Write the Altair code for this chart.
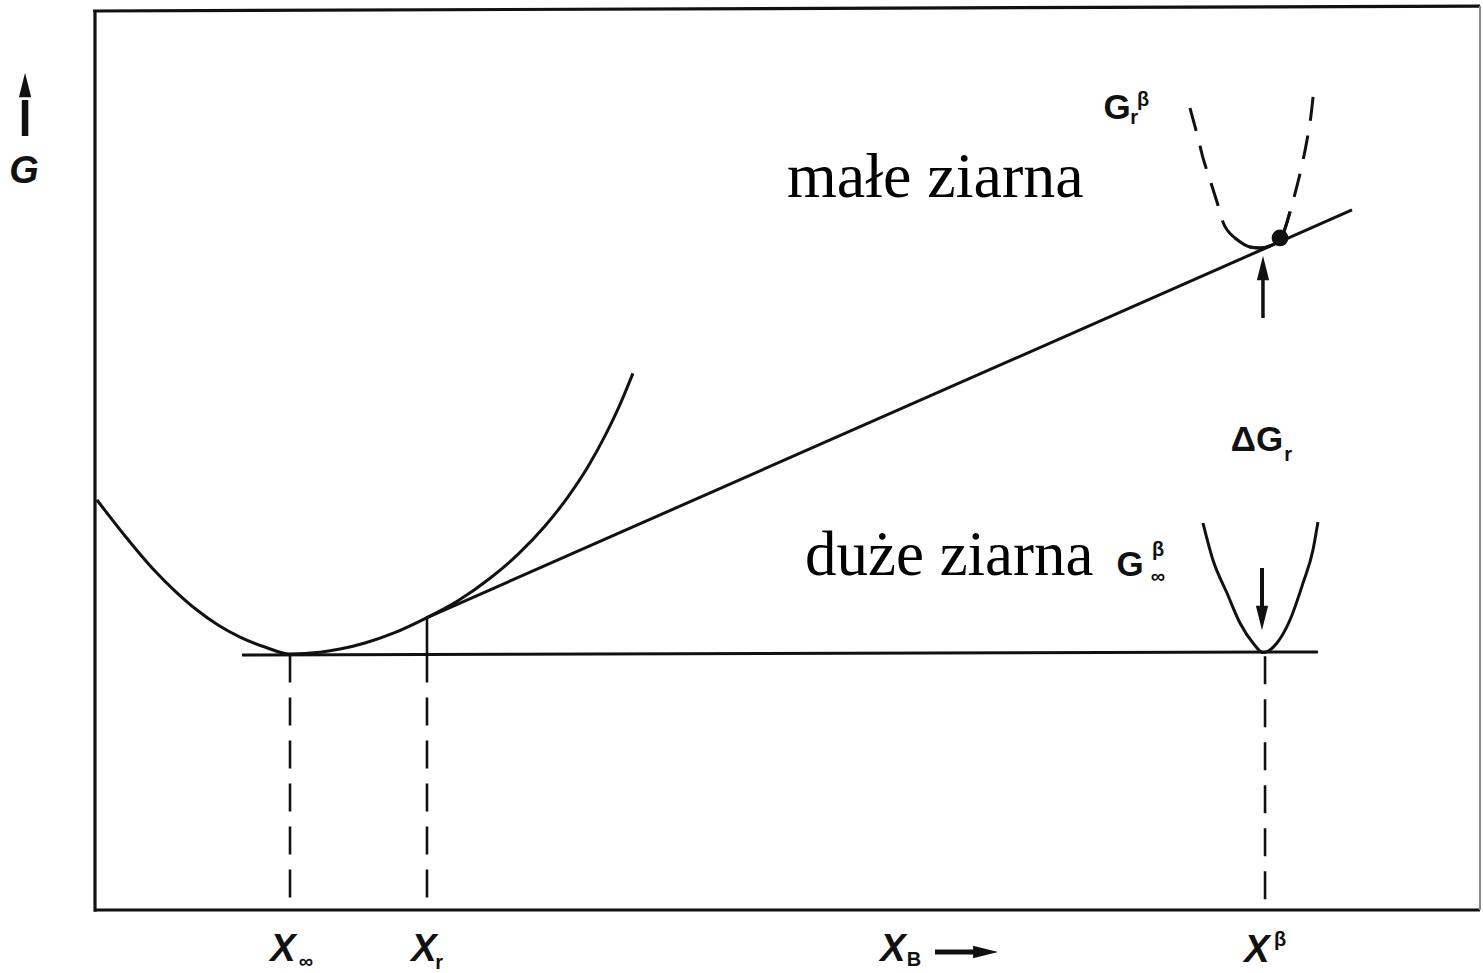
import altair as alt
import pandas as pd

# Composition axis X_B runs 0..100 across the frame, free energy G runs 0..100 up the frame.

# alpha-phase free-energy curve
alpha_x = [0.14, 2.17, 4.26, 5.78, 7.36, 8.88, 10.47, 12.27, 14.08, 16.25, 17.69, 19.49,
           21.59, 23.90, 26.21, 28.52, 30.61, 32.49, 34.15, 35.60, 36.82, 37.91, 38.84]
alpha_g = [45.56, 41.56, 37.78, 35.44, 33.33, 31.67, 30.33, 29.22, 28.44, 28.64, 28.99, 29.67,
           30.79, 32.44, 34.36, 36.86, 39.62, 42.66, 45.90, 49.27, 52.68, 56.18, 59.63]

# common tangent for large particles and tangent for small particles
common_x = [10.61, 88.30]
common_g = [28.33, 28.67]
tangent_x = [23.90, 90.76]
tangent_g = [32.44, 77.78]

# beta phase, small particles (G_r^beta), dashed
small_beta_x = [79.06, 79.64, 80.00, 80.51, 81.01, 81.44, 82.31, 83.39, 84.12, 84.84, 85.70,
                86.28, 86.71, 87.15, 87.51, 87.80, 88.01]
small_beta_g = [89.11, 85.78, 83.56, 81.11, 78.67, 76.44, 74.67, 73.67, 73.56, 73.78, 74.89,
                77.56, 80.00, 82.78, 85.56, 88.33, 91.33]
# solid bottom of the small-particle curve
small_core_x = [82.31, 83.39, 84.12, 84.84, 85.70, 86.28]
small_core_g = [74.67, 73.67, 73.56, 73.78, 74.89, 77.56]

# beta phase, large particles (G_inf^beta)
large_beta_x = [80.00, 80.72, 81.73, 82.67, 83.61, 84.33, 85.34, 86.28, 87.22, 87.94, 88.30]
large_beta_g = [43.00, 38.89, 35.22, 31.89, 29.67, 28.60, 29.67, 32.22, 36.33, 40.00, 43.11]

# compositions marked on the X_B axis
drop_x = [14.08, 23.97, 84.48]
drop_top = [28.40, 28.40, 28.20]
xr_solid_g = [28.40, 32.44]

# point of tangency on the small-particle curve
dot_x = [85.56]
dot_g = [74.67]

INK = "#111111"
LW = 3.0
X_DOM = [-6.8592, 100.2166]
G_DOM = [-7.0, 101.111]
xs = alt.Scale(domain=X_DOM, nice=False, zero=False)
ys = alt.Scale(domain=G_DOM, nice=False, zero=False)


def series(name, xv, gv):
    return pd.DataFrame({"series": name, "x": xv, "g": gv, "o": range(len(xv))})


curve_df = pd.concat([
    series("alpha", alpha_x, alpha_g),
    series("common", common_x, common_g),
    series("tangent", tangent_x, tangent_g),
    series("small_core", small_core_x, small_core_g),
    series("large_beta", large_beta_x, large_beta_g),
])
dashed_df = series("small_beta", small_beta_x, small_beta_g)

X = alt.X("x:Q", scale=xs, axis=None)
Y = alt.Y("g:Q", scale=ys, axis=None)

curves = alt.Chart(curve_df).mark_line(
    color=INK, strokeWidth=LW, interpolate="monotone", clip=False).encode(
    x=X, y=Y, detail="series:N", order="o:Q")
dashed = alt.Chart(dashed_df).mark_line(
    color=INK, strokeWidth=LW, strokeDash=[24, 15], interpolate="monotone").encode(
    x=X, y=Y, order="o:Q")

xr_solid = alt.Chart(pd.DataFrame({"x": [drop_x[1]], "g": [xr_solid_g[0]], "g2": [xr_solid_g[1]]})).mark_rule(
    color=INK, strokeWidth=2.6).encode(x=X, y=Y, y2="g2:Q")

drops_df = pd.DataFrame({"x": drop_x, "g": drop_top, "g0": [0.0] * 3})
drops = alt.Chart(drops_df).mark_rule(color=INK, strokeWidth=2.6, strokeDash=[28, 15]).encode(
    x=X, y=Y, y2="g0:Q")

dot = alt.Chart(pd.DataFrame({"x": dot_x, "g": dot_g})).mark_point(
    filled=True, color=INK, size=280, opacity=1).encode(x=X, y=Y)

# frame
frame_df = pd.DataFrame({
    "series": ["left", "left", "bottom", "bottom", "top", "top"],
    "x": [0.0, 0.0, 0.0, 100.0, -0.14, 100.0],
    "g": [100.0, -0.2, 0.0, 0.0, 99.89, 100.44],
    "o": [0, 1, 0, 1, 0, 1],
})
frame = alt.Chart(frame_df).mark_line(color=INK, strokeWidth=3.2, clip=False).encode(
    x=X, y=Y, detail="series:N", order="o:Q")
right_edge = alt.Chart(pd.DataFrame({"x": [100.0], "g": [100.44], "g0": [0.0]})).mark_rule(
    color="#8a8a8a", strokeWidth=2).encode(x=X, y=Y, y2="g0:Q")

# arrow shafts
shaft_df = pd.DataFrame({
    "x": [84.33, 84.26, -5.05, 60.65],
    "g": [65.78, 38.00, 86.00, -4.67],
    "x2": [84.33, 84.26, -5.05, 64.00],
    "g2": [71.11, 33.11, 90.00, -4.67],
    "w": [3.5, 4.0, 6.5, 5.0],
})
shafts = alt.Chart(shaft_df).mark_rule(color=INK).encode(
    x=X, y=Y, x2="x2:Q", y2="g2:Q",
    strokeWidth=alt.StrokeWidth("w:Q", scale=None))

UP = "M0,-1L0.5,1L-0.5,1Z"
DOWN = "M0,1L0.5,-1L-0.5,-1Z"
RIGHT = "M1,0L-1,-0.5L-1,0.5Z"
heads_up = alt.Chart(pd.DataFrame({"x": [84.33, -5.05], "g": [71.33, 91.67]})).mark_point(
    shape=UP, filled=True, color=INK, size=600, opacity=1).encode(x=X, y=Y)
heads_down = alt.Chart(pd.DataFrame({"x": [84.26], "g": [32.44]})).mark_point(
    shape=DOWN, filled=True, color=INK, size=600, opacity=1).encode(x=X, y=Y)
heads_right = alt.Chart(pd.DataFrame({"x": [64.30], "g": [-4.67]})).mark_point(
    shape=RIGHT, filled=True, color=INK, size=625, opacity=1).encode(x=X, y=Y)

# captions in serif
cap_df = pd.DataFrame({
    "t": ["małe ziarna", "duże ziarna"],
    "x": [49.96, 51.26],
    "g": [79.22, 37.22],
    "fs": [64, 63],
})
captions = alt.Chart(cap_df).mark_text(
    font="Liberation Serif", align="left", baseline="alphabetic", color="#000000").encode(
    x=X, y=Y, text="t:N", size=alt.Size("fs:Q", scale=None))

# symbol labels
upright_df = pd.DataFrame({
    "t": ["G", "ΔG", "G"],
    "x": [73.79, 83.90, 74.73],
    "g": [89.11, 52.22, 38.33],
})
upright = alt.Chart(upright_df).mark_text(
    font="Liberation Sans", fontWeight="bold", fontSize=35, color=INK,
    align="center", baseline="middle").encode(x=X, y=Y, text="t:N")

italic_df = pd.DataFrame({
    "t": ["G", "X", "X", "X", "X"],
    "x": [-5.13, 13.57, 23.75, 57.62, 83.90],
    "g": [82.00, -4.44, -4.44, -4.44, -4.56],
})
italic = alt.Chart(italic_df).mark_text(
    font="Liberation Sans", fontStyle="italic", fontWeight="bold", fontSize=38, color=INK,
    align="center", baseline="middle").encode(x=X, y=Y, text="t:N")

small_df = pd.DataFrame({
    "t": ["r", "β", "r", "β", "∞", "∞", "r", "B", "β"],
    "x": [75.02, 75.67, 86.15, 76.75, 76.75, 15.23, 24.84, 59.13, 85.56],
    "g": [88.00, 90.00, 50.56, 40.00, 37.00, -5.78, -5.89, -5.56, -3.33],
})
small = alt.Chart(small_df).mark_text(
    font="Liberation Sans", fontWeight="bold", fontSize=20, color=INK,
    align="center", baseline="middle").encode(x=X, y=Y, text="t:N")

chart = alt.layer(
    frame, right_edge, curves, dashed, xr_solid, drops, dot, shafts,
    heads_up, heads_down, heads_right, captions, upright, italic, small,
).properties(
    width=1483, height=973, padding=0, autosize=alt.AutoSizeParams(type="none"),
    background="#ffffff",
).configure_view(stroke=None)

chart.save("out.html", embed_options={"renderer": "svg", "actions": False})
